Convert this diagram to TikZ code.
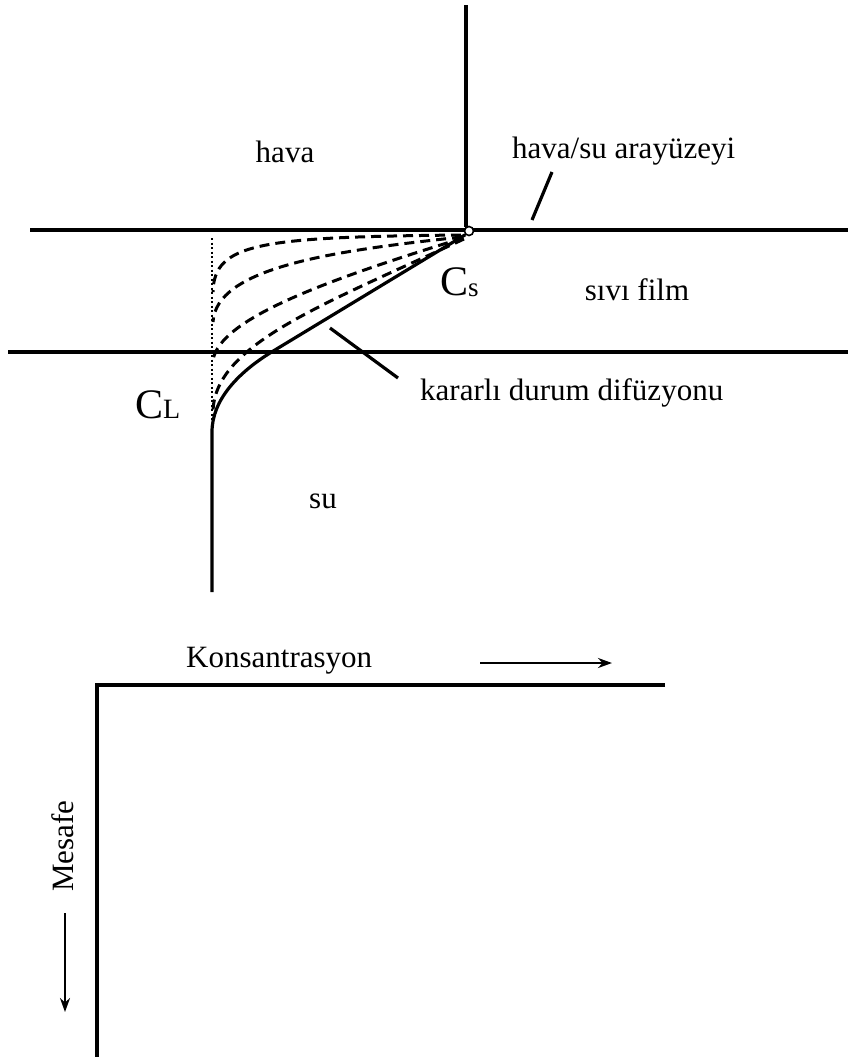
\documentclass[tikz,border=0pt]{standalone}
\usepackage{fontspec}
\setmainfont{Liberation Serif}
\usetikzlibrary{arrows.meta}
\begin{document}
\begin{tikzpicture}[x=1pt,y=-1pt,
  heavy/.style={line width=3.2pt},
  lbl/.style={inner sep=0pt, font=\fontsize{31}{36}\selectfont},
  bigc/.style={inner sep=0pt, font=\fontsize{42}{48}\selectfont},
  dashcurve/.style={line width=3pt, dash pattern=on 10pt off 6pt},
  dotline/.style={line width=2pt, dash pattern=on 2pt off 2.5pt},
  arr/.style={line width=2.6pt, -{Stealth[length=14pt,width=10pt]}}]
\useasboundingbox (0,0) rectangle (848,1061);
% key points
\coordinate (vtop) at (466,5);
\coordinate (hl1) at (30,230);
\coordinate (hr1) at (848,230);
\coordinate (hl2) at (8,352);
\coordinate (hr2) at (848,352);
\coordinate (bend) at (270,353);
\coordinate (cl) at (212,432);
\coordinate (vbot) at (212,592);
% vertical line and interface lines
\draw[heavy] (vtop) -- (466,227);
\draw[heavy] (hl1) -- (hr1);
\draw[heavy] (hl2) -- (hr2);
% dashed transient profiles
\draw[dashcurve] (461,235) .. controls (260,237) and (214,243) .. (213,292);
\draw[dashcurve] (462,237) .. controls (330,251) and (216,268) .. (213,322);
\draw[dashcurve] (463,238) .. controls (330,279) and (220,318) .. (213,360);
\draw[dashcurve] (464,239) .. controls (320,306) and (214,345) .. (213,412);
% dotted initial profile
\draw[dotline] (212,238) -- (cl);
% steady-state profile
\node[circle, draw, line width=1.6pt, fill=white, minimum size=9pt, inner sep=0pt] (cs) at (469,231) {};
\draw[heavy] (cs.south west) -- (bend) .. controls (238,373) and (212,400) .. (cl) -- (vbot);
% leaders
\coordinate (k1) at (330,328);
\coordinate (k2) at (398,378);
\draw[heavy] (k1) -- (k2);
\coordinate (a1) at (552,172);
\coordinate (a2) at (532,220);
\draw[heavy] (a1) -- (a2);
% labels
\node[lbl, anchor=base] (hava) at (285,162) {hava};
\node[lbl, anchor=base west] (ara) at (512,158) {hava/su arayüzeyi};
\node[lbl, anchor=base] (film) at (637,300) {sıvı film};
\node[lbl, anchor=base west] (kd) at (420,400) {kararlı durum difüzyonu};
\node[lbl, anchor=base] (su) at (323,508) {su};
\node[bigc, anchor=base west] (csl) at (440,295) {C\raisebox{-1pt}{\fontsize{27}{30}\selectfont s}};
\node[bigc, anchor=base west] (cll) at (135,418) {C\fontsize{28}{30}\selectfont L};
% axes
\coordinate (o) at (97,685);
\coordinate (xe) at (665,685);
\coordinate (ye) at (97,1057);
\draw[line width=3.6pt] (xe) -- (o) -- (ye);
\node[lbl, anchor=base west] (kon) at (186,667) {Konsantrasyon};
\coordinate (ka1) at (480,663);
\coordinate (ka2) at (612,663);
\draw[arr] (ka1) -- (ka2);
\node[lbl, anchor=base west, rotate=90] (mes) at (73,892) {Mesafe};
\coordinate (ma1) at (65,913);
\coordinate (ma2) at (65,1012);
\draw[arr] (ma1) -- (ma2);
\end{tikzpicture}
\end{document}
